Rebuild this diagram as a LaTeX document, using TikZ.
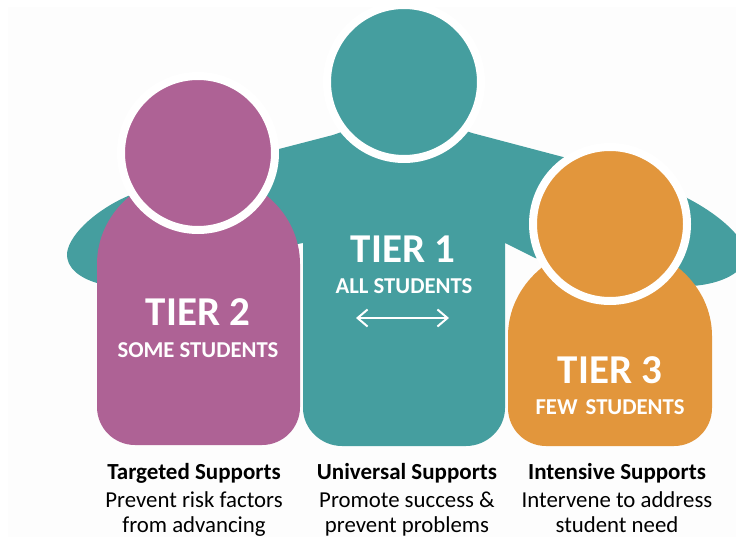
\documentclass[tikz,border=0pt]{standalone}
\usepackage{fontspec}
\setmainfont{Carlito}
\usetikzlibrary{arrows.meta}
\definecolor{tierteal}{HTML}{459E9F}
\definecolor{tierpurple}{HTML}{AE6295}
\definecolor{tierorange}{HTML}{E2963C}
\definecolor{paper}{HTML}{FDFDFD}
\tikzset{
    head/.style={fill=#1,draw=white,line width=8pt},
    tier/.style={anchor=base,text=white,font=\bfseries\fontsize{41}{41}\selectfont},
    group/.style={anchor=base,text=white,font=\bfseries\fontsize{22.7}{23}\selectfont},
    supporthead/.style={anchor=base,text=black,font=\bfseries\fontsize{23}{23}\selectfont},
    supporttext/.style={anchor=base,text=black,font=\fontsize{22.8}{23}\selectfont}
}
\begin{document}
\begin{tikzpicture}[x=1pt,y=-1pt]
    \useasboundingbox (0,0) rectangle (736,537);
    \clip (0,0) rectangle (736,537);
    \fill[paper] (8,7) rectangle (736,537);

    % Tier 1 figure with both arms
    \fill[tierteal] (67,253) .. controls (70,232) and (100,208) .. (128,196)
        -- (279,149) -- (333,135) -- (404,110) -- (472,133) -- (563,157) -- (687,198)
        .. controls (720,215) and (745,238) .. (747,255)
        .. controls (745,272) and (722,284) .. (692,286)
        -- (535,258) -- (505,243) -- (505,408)
        .. controls (505,429) and (487,446) .. (466,446) -- (342,446)
        .. controls (321,446) and (303,429) .. (303,408) -- (303,243) -- (97,283)
        .. controls (80,278) and (66,268) .. (67,253) -- cycle;
    \draw[head=tierteal] (404,82) circle[radius=77];

    % Tier 2 figure
    \fill[tierpurple] (97,264) .. controls (97,213) and (142,172) .. (198.5,172)
        .. controls (255,172) and (300,213) .. (300,264) -- (300,407)
        .. controls (300,428) and (283,445) .. (262,445) -- (135,445)
        .. controls (114,445) and (97,428) .. (97,407) -- cycle;
    \draw[head=tierpurple] (198,153) circle[radius=77];

    % Tier 3 figure
    \fill[tierorange] (508,336) .. controls (508,285) and (554,244) .. (610,244)
        .. controls (666,244) and (712,285) .. (712,336) -- (712,408)
        .. controls (712,429) and (695,446) .. (674,446) -- (546,446)
        .. controls (525,446) and (508,429) .. (508,408) -- cycle;
    \draw[head=tierorange] (610,224) circle[radius=77];

    % Labels on the figures
    \node[tier] (tierone) at (403,263) {TIER 1};
    \node[group] (allstudents) at (404,294) {ALL STUDENTS};
    \node[tier] (tiertwo) at (198,325) {TIER 2};
    \node[group] (somestudents) at (198,357) {SOME STUDENTS};
    \node[tier] (tierthree) at (610,383) {TIER 3};
    \node[group] (fewstudents) at (610,414) {FEW\hspace{3pt} STUDENTS};

    % Double arrow
    \coordinate (arrowleft) at (356,318);
    \coordinate (arrowright) at (449,318);
    \draw[white,line width=2pt,{Straight Barb[length=10pt,width=17pt]}-{Straight Barb[length=10pt,width=17pt]}] (arrowleft) -- (arrowright);

    % Supports below the figures
    \node[supporthead] (targeted) at (194,479) {Targeted Supports};
    \node[supporttext] (targetedone) at (194,507) {Prevent risk factors};
    \node[supporttext] (targetedtwo) at (194,532) {from advancing};
    \node[supporthead] (universal) at (407,479) {Universal Supports};
    \node[supporttext] (universalone) at (407,507) {Promote success \&};
    \node[supporttext] (universaltwo) at (407,532) {prevent problems};
    \node[supporthead] (intensive) at (617,479) {Intensive Supports};
    \node[supporttext] (intensiveone) at (617,507) {Intervene to address};
    \node[supporttext] (intensivetwo) at (617,532) {student need};
\end{tikzpicture}
\end{document}
